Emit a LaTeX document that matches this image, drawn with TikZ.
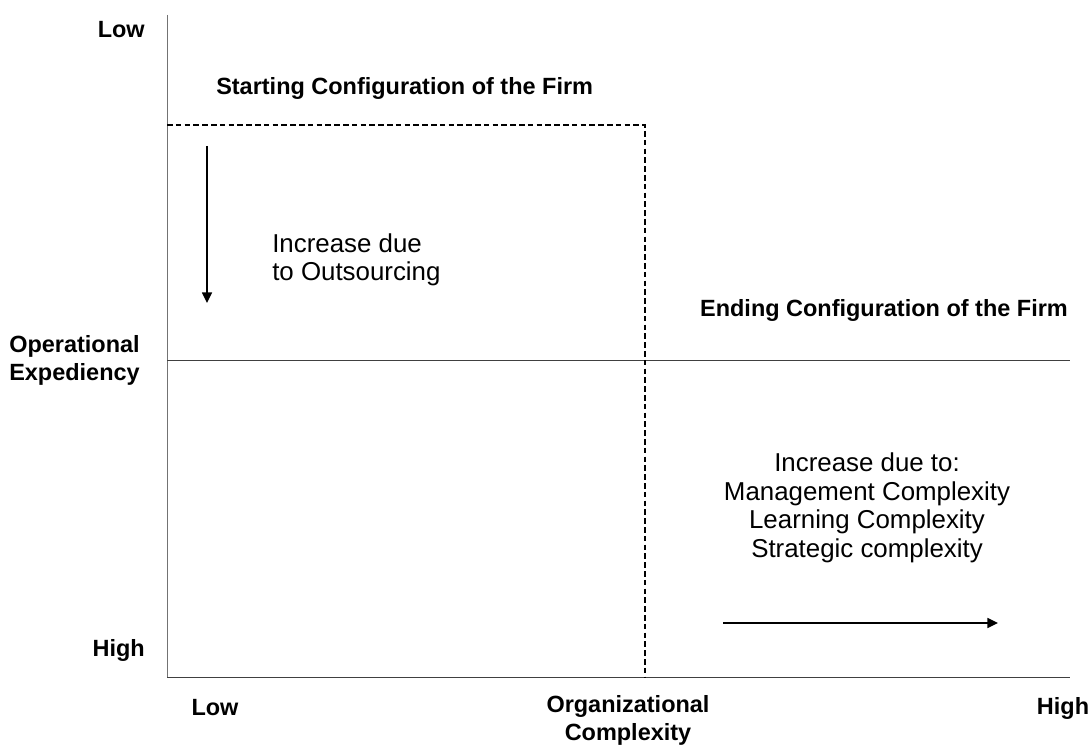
\documentclass[tikz,border=0pt]{standalone}
\usepackage{fontspec}
\setmainfont{Liberation Sans}
\usepackage{tikz}
\usetikzlibrary{
    arrows.meta,
    positioning
}
\tikzset{
    axislabel/.style={
        font=\fontsize{17.6}{21}\selectfont\bfseries,
        align=left,
        inner sep=0pt
    }
}
\tikzset{
    note/.style={
        font=\fontsize{19.4}{21.4}\selectfont,
        align=center,
        inner sep=0pt
    }
}
\tikzset{
    axis/.style={
        draw=black!75,
        line width=0.6pt
    }
}
\tikzset{
    boundary/.style={
        draw=black,
        dashed,
        dash pattern=on 4.2pt off 2.4pt,
        line width=0.8pt
    }
}
\tikzset{
    trend/.style={
        draw=black,
        line width=1.1pt,
        -{Triangle[length=8pt,width=7.5pt]}
    }
}

\begin{document}
\begin{tikzpicture}[
    x=0.75pt,
    y=-0.75pt
]

\useasboundingbox[fill=white] (0,0) rectangle (1091,745);

% ------------------------------------------------------------
% Frame
% ------------------------------------------------------------

\coordinate (top) at (167,15);
\coordinate (origin) at (167,677);
\coordinate (xend) at (1070,677);
\coordinate (midl) at (167,360);
\coordinate (midr) at (1070,360);

\draw[axis, draw=black!55] (top) -- (origin);
\draw[axis] (origin) -- (xend);
\draw[axis] (midl) -- (midr);

% starting configuration, dashed
\coordinate (boxtl) at (167,125);
\coordinate (boxtr) at (645,125);
\coordinate (boxbr) at (645,677);
\draw[boundary] (boxtl) -- (boxtr) -- (boxbr);

% ------------------------------------------------------------
% Axis labels
% ------------------------------------------------------------

\node[axislabel, anchor=east] (ylow) at (145,30) {Low};
\node[axislabel, anchor=west] (yname) at (9,360) {Operational\\Expediency};
\node[axislabel, anchor=east] (yhigh) at (145,650) {High};

\node[axislabel] (xlow) at (215,708) {Low};
\node[axislabel, align=center] (xname) at (628,720) {Organizational\\Complexity};
\node[axislabel] (xhigh) at (1063,708) {High};

% ------------------------------------------------------------
% Configurations
% ------------------------------------------------------------

\node[axislabel, anchor=west] (start) at (216,88) {Starting Configuration of the Firm};
\node[axislabel, anchor=east] (finish) at (1068,310) {Ending Configuration of the Firm};

\coordinate (downtop) at (207,146);
\coordinate (downend) at (207,303);
\draw[trend] (downtop) -- (downend);
\node[note, align=left, anchor=west] (outsrc) at (272,260) {Increase due\\to Outsourcing};

\node[note] (causes) at (867,508)
    {Increase due to:\\Management Complexity\\Learning Complexity\\Strategic complexity};

\coordinate (rightbeg) at (723,623);
\coordinate (rightend) at (998,623);
\draw[trend] (rightbeg) -- (rightend);

\end{tikzpicture}
\end{document}
